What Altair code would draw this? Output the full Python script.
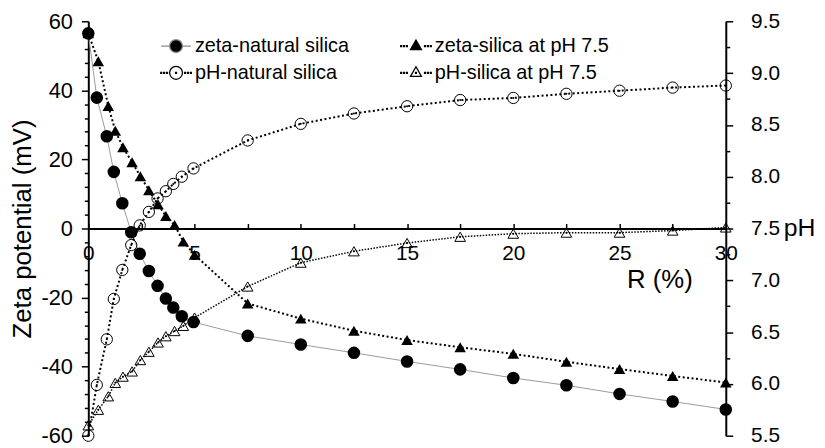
import altair as alt
import pandas as pd

# ---------------- data ----------------
R_circ = [0, 0.4, 0.87, 1.2, 1.6, 2.02, 2.42, 2.85, 3.26, 3.65, 4.0, 4.4, 4.95,
          7.5, 10, 12.5, 15, 17.5, 20, 22.5, 25, 27.5, 30]
R_tri = [0, 0.47, 0.94, 1.27, 1.63, 2.06, 2.45, 2.85, 3.28, 3.65, 4.06, 4.47, 5.0,
         7.5, 10, 12.5, 15, 17.5, 20, 22.5, 25, 27.5, 30]

zeta_natural = [56.5, 37.9, 26.7, 16.4, 7.3, -1.1, -7.3, -12.3, -16.6, -20.3, -22.9, -25.4, -27.1,
                -31.1, -33.6, -36.0, -38.5, -40.8, -43.3, -45.4, -47.9, -50.1, -52.4]
zeta_75 = [56.5, 48.4, 35.5, 28.3, 23.5, 19.2, 15.1, 11.1, 7.0, 3.6, 1.0, -3.8, -7.6,
           -21.7, -26.1, -29.6, -32.3, -34.4, -36.3, -38.6, -40.7, -42.7, -44.6]
ph_natural = [5.50, 5.99, 6.43, 6.82, 7.10, 7.34, 7.53, 7.66, 7.79, 7.86, 7.93, 8.00, 8.08,
              8.35, 8.51, 8.61, 8.68, 8.74, 8.76, 8.80, 8.83, 8.86, 8.88]
ph_75 = [5.60, 5.75, 5.88, 6.01, 6.07, 6.12, 6.23, 6.31, 6.40, 6.46, 6.51, 6.56, 6.64,
         6.94, 7.17, 7.28, 7.36, 7.42, 7.45, 7.46, 7.46, 7.48, 7.51]

# legend order (filled column by column: left column first)
series_names = ["zeta-natural silica", "pH-natural silica",
                "zeta-silica at pH 7.5", "pH-silica at pH 7.5"]

x_ticks = [i * 2.5 for i in range(13)]
zeta_ticks = list(range(-60, 61, 4))
ph_ticks = [5.5 + 0.25 * i for i in range(17)]

# ---------------- frames ----------------
df_zn = pd.DataFrame({"R": R_circ, "v": zeta_natural})
df_z7 = pd.DataFrame({"R": R_tri, "v": zeta_75})
df_pn = pd.DataFrame({"R": R_circ, "v": ph_natural})
df_p7 = pd.DataFrame({"R": R_tri, "v": ph_75})
df_leg = pd.DataFrame({"series": series_names})

FONT = "Liberation Sans"
PLOT_W, PLOT_H = 643, 418

x_axis = alt.Axis(
    orient="top", offset=-209, values=x_ticks,
    labelExpr="datum.value % 5 === 0 ? '' + datum.value : ''",
    tickSize=5, tickWidth=1.5, tickColor="black",
    domainColor="black", domainWidth=2,
    labelFont=FONT, labelFontSize=21, labelColor="black",
    labelPadding=-30, labelBaseline="middle", labelFlush=False, labelOverlap=False,
    title="R (%)", titleFont=FONT, titleFontSize=26, titleFontWeight="normal",
    titleColor="black", titleX=576, titleY=51.5, titleAlign="center",
    titleBaseline="middle", grid=False,
)
x_enc = alt.X("R:Q", scale=alt.Scale(domain=[0, 30], nice=False, zero=False), axis=x_axis)

left_axis = alt.Axis(
    orient="left", values=zeta_ticks,
    labelExpr="datum.value % 20 === 0 ? '' + datum.value : ''",
    tickSize={"condition": {"test": "datum.value % 20 === 0", "value": 7}, "value": 4},
    tickWidth=1.5, tickColor="black", domainColor="black", domainWidth=2,
    labelFont=FONT, labelFontSize=22, labelColor="black", labelPadding=9,
    labelFlush=False, labelOverlap=False,
    title="Zeta potential (mV)", titleFont=FONT, titleFontSize=26,
    titleFontWeight="normal", titleColor="black", titleAngle=-90,
    titleX=-66, titleY=209, titleAlign="center", titleBaseline="middle", grid=False,
)
y_left = alt.Y("v:Q", scale=alt.Scale(domain=[-60, 60], nice=False, zero=False), axis=left_axis)

right_axis = alt.Axis(
    orient="right", values=ph_ticks,
    labelExpr="abs(datum.value * 2 - round(datum.value * 2)) < 0.001 ? format(datum.value, '.1f') : ''",
    tickSize={"condition": {"test": "abs(datum.value * 2 - round(datum.value * 2)) < 0.001", "value": 7}, "value": 4},
    tickWidth=1.5, tickColor="black", domainColor="black", domainWidth=2,
    labelFont=FONT, labelFontSize=21, labelColor="black", labelPadding=18,
    labelFlush=False, labelOverlap=False,
    title="pH", titleFont=FONT, titleFontSize=25, titleFontWeight="normal",
    titleColor="black", titleAngle=0, titleX=74, titleY=208.5,
    titleAlign="center", titleBaseline="middle", grid=False,
)
y_right = alt.Y("v:Q", scale=alt.Scale(domain=[5.5, 9.5], nice=False, zero=False), axis=right_axis)

# ---------------- legend symbols (custom paths, unit = symbol radius) ----------------
def dots(xs):
    return "".join(f"M{x - 0.07:.2f},-0.07h0.14v0.14h-0.14z" for x in xs)

CIRCLE = "M1,0A1,1,0,1,1,-1,0A1,1,0,1,1,1,0Z"
TRI = "M0,-0.95L0.85,0.55L-0.85,0.55Z"
side_dots = dots([-2.3, -1.85, -1.4, 1.4, 1.85, 2.3])
legend_paths = [
    "M-2.3,0H-1M1,0H2.3" + CIRCLE,          # zeta-natural
    side_dots + CIRCLE + dots([0]),          # pH-natural
    side_dots + TRI,                         # zeta-silica at pH 7.5
    side_dots + TRI + dots([0]),             # pH-silica at pH 7.5
]
leg = alt.Legend(
    title=None, orient="none", legendX=78.5, legendY=15, direction="vertical",
    columns=2, columnPadding=48, rowPadding=7, padding=0,
    symbolSize=169, symbolStrokeWidth=1.3, symbolOpacity=1,
    labelFont=FONT, labelFontSize=20, labelColor="black", labelOffset=9,
    labelLimit=400,
)
legend_layer = alt.Chart(df_leg).mark_point(opacity=1).encode(
    shape=alt.Shape("series:N", scale=alt.Scale(domain=series_names, range=legend_paths), legend=leg),
    fill=alt.Fill("series:N", scale=alt.Scale(domain=series_names,
                                              range=["black", "white", "black", "white"]), legend=leg),
    stroke=alt.Stroke("series:N", scale=alt.Scale(domain=series_names,
                                                  range=["#8c8c8c", "black", "black", "black"]), legend=leg),
).transform_filter("false")

# ---------------- zeta (left axis) ----------------
zn_line = alt.Chart(df_zn).mark_line(color="#9a9a9a", strokeWidth=1).encode(x=x_enc, y=y_left)
zn_pts = alt.Chart(df_zn).mark_point(shape="circle", filled=True, color="black", size=160,
                                      opacity=1).encode(x=x_enc, y=y_left)
z7_line = alt.Chart(df_z7).mark_line(color="black", strokeWidth=2,
                                      strokeDash=[2, 2.5]).encode(x=x_enc, y=y_left)
z7_pts = alt.Chart(df_z7).mark_point(shape="triangle-up", filled=True, color="black", size=135,
                                      opacity=1).encode(x=x_enc, y=y_left)
left = alt.layer(legend_layer, zn_line, z7_line, zn_pts, z7_pts)

# ---------------- pH (right axis) ----------------
pn_line = alt.Chart(df_pn).mark_line(color="black", strokeWidth=2,
                                      strokeDash=[2, 2.5]).encode(x=x_enc, y=y_right)
pn_pts = alt.Chart(df_pn).mark_point(shape="circle", filled=False, color="black", size=130,
                                      strokeWidth=1, opacity=1).encode(x=x_enc, y=y_right)
pn_dot = alt.Chart(df_pn).mark_point(shape="circle", filled=True, color="black", size=4,
                                      opacity=1).encode(x=x_enc, y=y_right)
p7_line = alt.Chart(df_p7).mark_line(color="black", strokeWidth=1.5,
                                      strokeDash=[1.5, 1.5]).encode(x=x_enc, y=y_right)
p7_pts = alt.Chart(df_p7).mark_point(shape="triangle-up", filled=False, color="black", size=115,
                                      strokeWidth=1, opacity=1).encode(x=x_enc, y=y_right)
p7_dot = alt.Chart(df_p7).mark_point(shape="circle", filled=True, color="black", size=4,
                                      opacity=1).encode(x=x_enc, y=y_right)
right = alt.layer(pn_line, p7_line, pn_pts, p7_pts, pn_dot, p7_dot)

chart = alt.layer(left, right).resolve_scale(y="independent").properties(
    width=PLOT_W, height=PLOT_H,
    autosize=alt.AutoSizeParams(type="none"),
    padding={"left": 81, "top": 11.5, "right": 92, "bottom": 10},
    background="white",
).configure_view(stroke=None)

chart.save("out.html", embed_options={"renderer": "svg", "actions": False})
